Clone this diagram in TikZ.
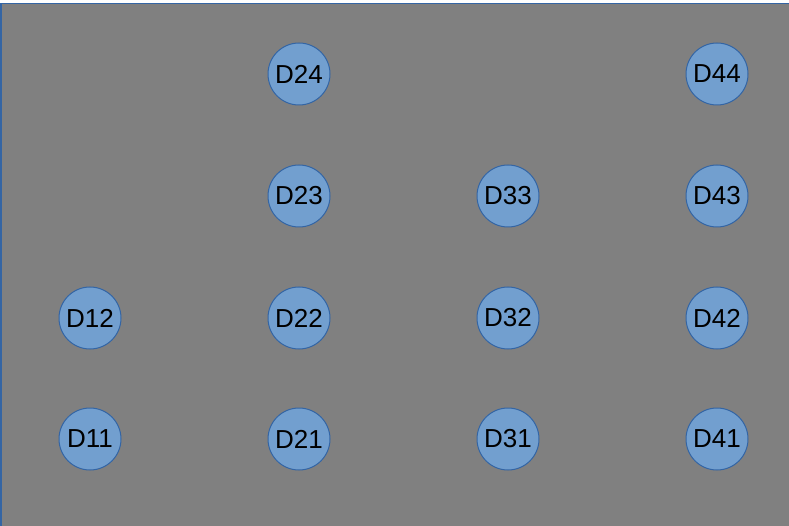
\documentclass[tikz,border=0pt]{standalone}
\usepackage{fontspec}
\setmainfont{Liberation Sans}
\usepackage{tikz}
\definecolor{colBg}{HTML}{808080}
\definecolor{colFill}{HTML}{729FCF}
\definecolor{colLine}{HTML}{3465A4}
\tikzstyle{drive}=[circle, draw=colLine, fill=colFill, line width=1pt, inner sep=0pt, minimum size=62pt, font=\fontsize{26}{30}\selectfont]
\tikzstyle{frame}=[colLine, line width=1.5pt]

\begin{document}
\begin{tikzpicture}[x=1pt,y=-1pt]
		\useasboundingbox (0,0) rectangle (789,526);
		\fill[colBg] (0.75,3.5) rectangle (789,526);
		\coordinate (tl) at (0.75,3.5);
		\coordinate (tr) at (789,3.5);
		\coordinate (bl) at (0.75,526);
		\draw[frame] (bl) -- (tl) -- (tr);
		\node[drive] (D11) at (90, 439) {D11};
		\node[drive] (D12) at (90, 318) {D12};
		\node[drive] (D21) at (299, 439) {D21};
		\node[drive] (D22) at (299, 318) {D22};
		\node[drive] (D23) at (299, 196) {D23};
		\node[drive] (D24) at (299, 74) {D24};
		\node[drive] (D31) at (508, 439) {D31};
		\node[drive] (D32) at (508, 318) {D32};
		\node[drive] (D33) at (508, 196) {D33};
		\node[drive] (D41) at (717, 439) {D41};
		\node[drive] (D42) at (717, 318) {D42};
		\node[drive] (D43) at (717, 196) {D43};
		\node[drive] (D44) at (717, 74) {D44};
	\end{tikzpicture}
\end{document}
